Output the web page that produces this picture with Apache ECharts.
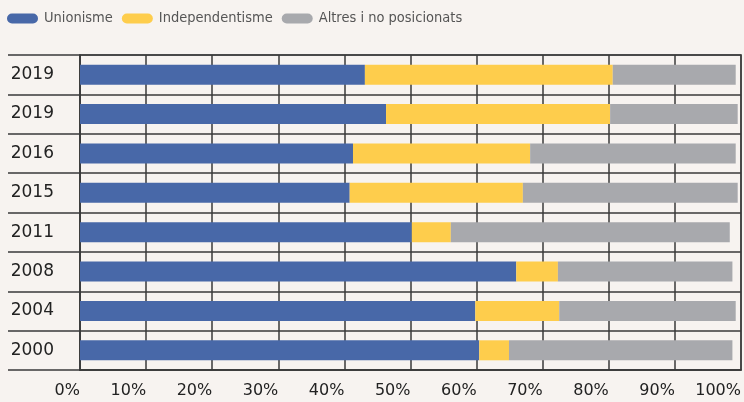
<!DOCTYPE html>
<html>
<head>
<meta charset="utf-8">
<script src="https://cdn.jsdelivr.net/npm/echarts@6/dist/echarts.min.js"></script>
<style>
html,body{margin:0;padding:0;background:#f7f3f0;}
#c{width:744px;height:402px;}
</style>
</head>
<body>
<div id="c"></div>
<script>
const categories = ['2019', '2019', '2016', '2015', '2011', '2008', '2004', '2000'];
const unionisme = [43.1, 46.3, 41.3, 40.8, 50.2, 66.0, 59.8, 60.4];
const independentisme = [37.5, 33.9, 26.8, 26.2, 5.9, 6.3, 12.7, 4.5];
const altres = [18.6, 19.3, 31.1, 32.5, 42.2, 26.4, 26.7, 33.8];
const xTicks = ['0%', '10%', '20%', '30%', '40%', '50%', '60%', '70%', '80%', '90%', '100%'];
const seriesNames = ['Unionisme', 'Independentisme', 'Altres i no posicionats'];

const chart = echarts.init(document.getElementById('c'));
const colors = ['#4868a8', '#fecd4c', '#a8a9ad'];
const mkSeries = (name, data, i) => ({
  name: name, type: 'bar', stack: 'total', data: data, barWidth: 20,
  itemStyle: { color: colors[i] }, emphasis: { disabled: true }
});
chart.setOption({
  backgroundColor: '#f7f3f0',
  animation: false,
  legend: {
    left: 2, top: 6, itemWidth: 31, itemHeight: 10, itemGap: 9,
    icon: 'path://M5,0 L26,0 A5,5 0 0 1 26,10 L5,10 A5,5 0 0 1 5,0 Z',
    textStyle: { fontFamily: "'Liberation Sans Narrow', 'DejaVu Sans Condensed', sans-serif", fontSize: 14.5, color: '#555', padding: [0, 0, 0, 1] },
    data: seriesNames
  },
  grid: { left: 80, right: 3, top: 55, bottom: 32, show: true, borderColor: '#7a7a7a', borderWidth: 2, backgroundColor: 'transparent' },
  xAxis: {
    type: 'value', min: 0, max: 100, interval: 10,
    axisLine: { show: true, lineStyle: { color: '#3a3a3a', width: 1.5 } },
    axisTick: { show: false },
    splitLine: { show: true, lineStyle: { color: '#3a3a3a', width: 1.5 } },
    axisLabel: {
      align: 'right', margin: 13,
      fontFamily: "'DejaVu Sans', sans-serif", fontSize: 16, color: '#222',
      formatter: (v) => xTicks[Math.round(v / 10)]
    }
  },
  yAxis: {
    type: 'category', inverse: true, data: categories,
    axisLine: { show: true, lineStyle: { color: '#3a3a3a', width: 1.5 } },
    axisTick: { show: true, length: 72, lineStyle: { color: '#3a3a3a', width: 1.5 } },
    splitLine: { show: true, lineStyle: { color: '#3a3a3a', width: 1.5 } },
    axisLabel: { margin: 26, fontFamily: "'DejaVu Sans', sans-serif", fontSize: 17, color: '#222' }
  },
  series: [
    mkSeries(seriesNames[0], unionisme, 0),
    mkSeries(seriesNames[1], independentisme, 1),
    mkSeries(seriesNames[2], altres, 2)
  ]
});
</script>
</body>
</html>
